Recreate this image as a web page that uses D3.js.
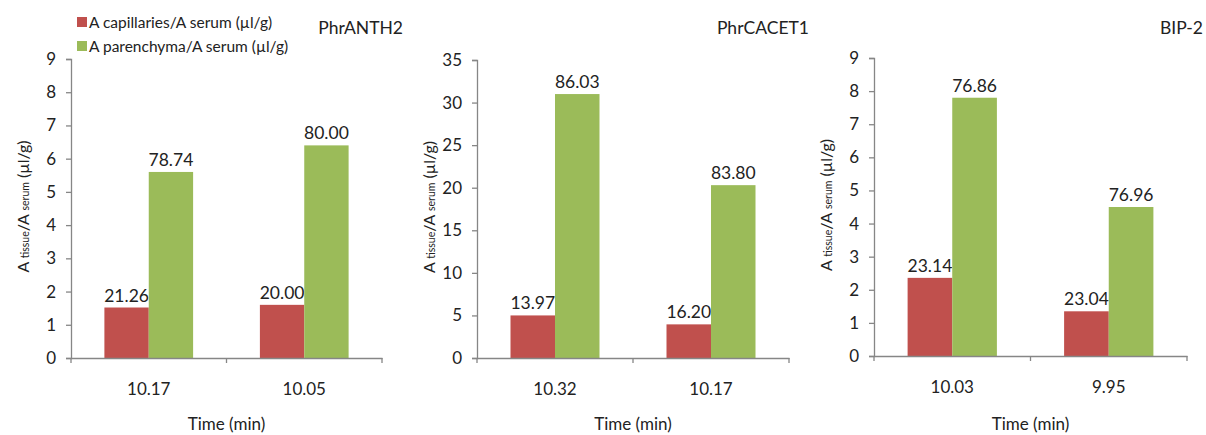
<!DOCTYPE html>
<html>
<head>
<meta charset="utf-8">
<script src="https://cdn.jsdelivr.net/npm/d3@7"></script>
<style>
  body { margin: 0; background: #fff; }
  text { font-family: Lato, "Open Sans", sans-serif; fill: #222; }
</style>
</head>
<body>
<div id="chart"></div>
<script>
// chart data
const titles = ["PhrANTH2", "PhrCACET1", "BIP-2"];
const timeLabels = [["10.17", "10.05"], ["10.32", "10.17"], ["10.03", "9.95"]];
const capillaries = [[1.52, 1.6], [5.0, 3.95], [2.36, 1.35]];
const parenchyma = [[5.6, 6.4], [31.0, 20.3], [7.8, 4.5]];
const capLabels = [["21.26", "20.00"], ["13.97", "16.20"], ["23.14", "23.04"]];
const parLabels = [["78.74", "80.00"], ["86.03", "83.80"], ["76.86", "76.96"]];
const yMax = [9, 35, 9];
const yStep = [1, 5, 1];
const seriesNames = ["A capillaries/A serum (µl/g)", "A parenchyma/A serum (µl/g)"];
const colors = ["#C0504D", "#9BBB59"];

const W = 1206, H = 435;
const svg = d3.select("#chart").append("svg").attr("width", W).attr("height", H);

// panel geometry
const panels = [
  { x0: 71, x1: 382, top: 59, bottom: 358, titleX: 403 },
  { x0: 477, x1: 789, top: 60, bottom: 358, titleX: 809 },
  { x0: 874, x1: 1187, top: 58, bottom: 356, titleX: 1203 }
];

panels.forEach((p, i) => {
  const g = svg.append("g");
  const x = d3.scaleBand().domain(timeLabels[i]).range([p.x0, p.x1]).paddingInner(0).paddingOuter(0);
  const inner = d3.scaleBand().domain([0, 1]).range([0, x.bandwidth()]).paddingInner(0).paddingOuter(0.5 * 67 / 44.5);
  const y = d3.scaleLinear().domain([0, yMax[i]]).range([p.bottom, p.top]);

  // bars
  const series = [capillaries[i], parenchyma[i]];
  const labels = [capLabels[i], parLabels[i]];
  series.forEach((vals, s) => {
    g.selectAll(null).data(vals).join("rect")
      .attr("x", (d, k) => x(timeLabels[i][k]) + inner(s))
      .attr("y", d => y(d))
      .attr("width", inner.bandwidth())
      .attr("height", d => y(0) - y(d))
      .attr("fill", colors[s]);
    g.selectAll(null).data(vals).join("text")
      .attr("x", (d, k) => x(timeLabels[i][k]) + inner(s) + inner.bandwidth() / 2)
      .attr("y", d => y(d) - 6)
      .attr("text-anchor", "middle")
      .style("font-size", "17.5px")
      .text((d, k) => labels[s][k]);
  });

  // y axis
  const yAxis = g.append("g").attr("transform", `translate(${p.x0},0)`)
    .call(d3.axisLeft(y).tickValues(d3.range(0, yMax[i] + 0.001, yStep[i])).tickSize(5).tickPadding(10));
  yAxis.selectAll("text").style("font-size", "17px").attr("fill", "#222");
  yAxis.selectAll("line, path").attr("stroke", "#868686").attr("stroke-width", 1.3);

  // x axis
  const xAxis = g.append("g").attr("transform", `translate(0,${p.bottom})`)
    .call(d3.axisBottom(x).tickSize(0).tickPadding(25));
  xAxis.select(".domain").attr("stroke", "#868686").attr("stroke-width", 1.3);
  xAxis.selectAll("text").style("font-size", "17px").attr("fill", "#222");
  // category dividers
  const edges = [p.x0, ...timeLabels[i].map(t => x(t) + x.bandwidth())];
  g.selectAll(null).data(edges).join("line")
    .attr("x1", d => d).attr("x2", d => d)
    .attr("y1", p.bottom).attr("y2", p.bottom + 5)
    .attr("stroke", "#868686").attr("stroke-width", 1.3);

  // x title
  g.append("text")
    .attr("x", (p.x0 + p.x1) / 2).attr("y", H - 5)
    .attr("text-anchor", "middle").style("font-size", "17px")
    .text("Time (min)");

  // y title with subscripts
  const yt = g.append("text")
    .attr("transform", `translate(${p.x0 - 42},${(p.top + p.bottom) / 2 - 2}) rotate(-90)`)
    .attr("text-anchor", "middle").style("font-size", "16px");
  yt.append("tspan").text("A ");
  yt.append("tspan").style("font-size", "10.5px").text("tissue");
  yt.append("tspan").text("/A ");
  yt.append("tspan").style("font-size", "10.5px").text("serum");
  yt.append("tspan").text(" (µl/g)");

  // panel title
  g.append("text")
    .attr("x", p.titleX).attr("y", 34)
    .attr("text-anchor", "end").style("font-size", "17.5px")
    .text(titles[i]);
});

// legend
const legend = svg.append("g").attr("transform", "translate(77,17)");
seriesNames.forEach((name, s) => {
  const row = legend.append("g").attr("transform", `translate(0,${s * 24})`);
  row.append("rect").attr("width", 10).attr("height", 10).attr("fill", colors[s]);
  row.append("text").attr("x", 12).attr("y", 11).style("font-size", "15.5px").text(name);
});
</script>
</body>
</html>
